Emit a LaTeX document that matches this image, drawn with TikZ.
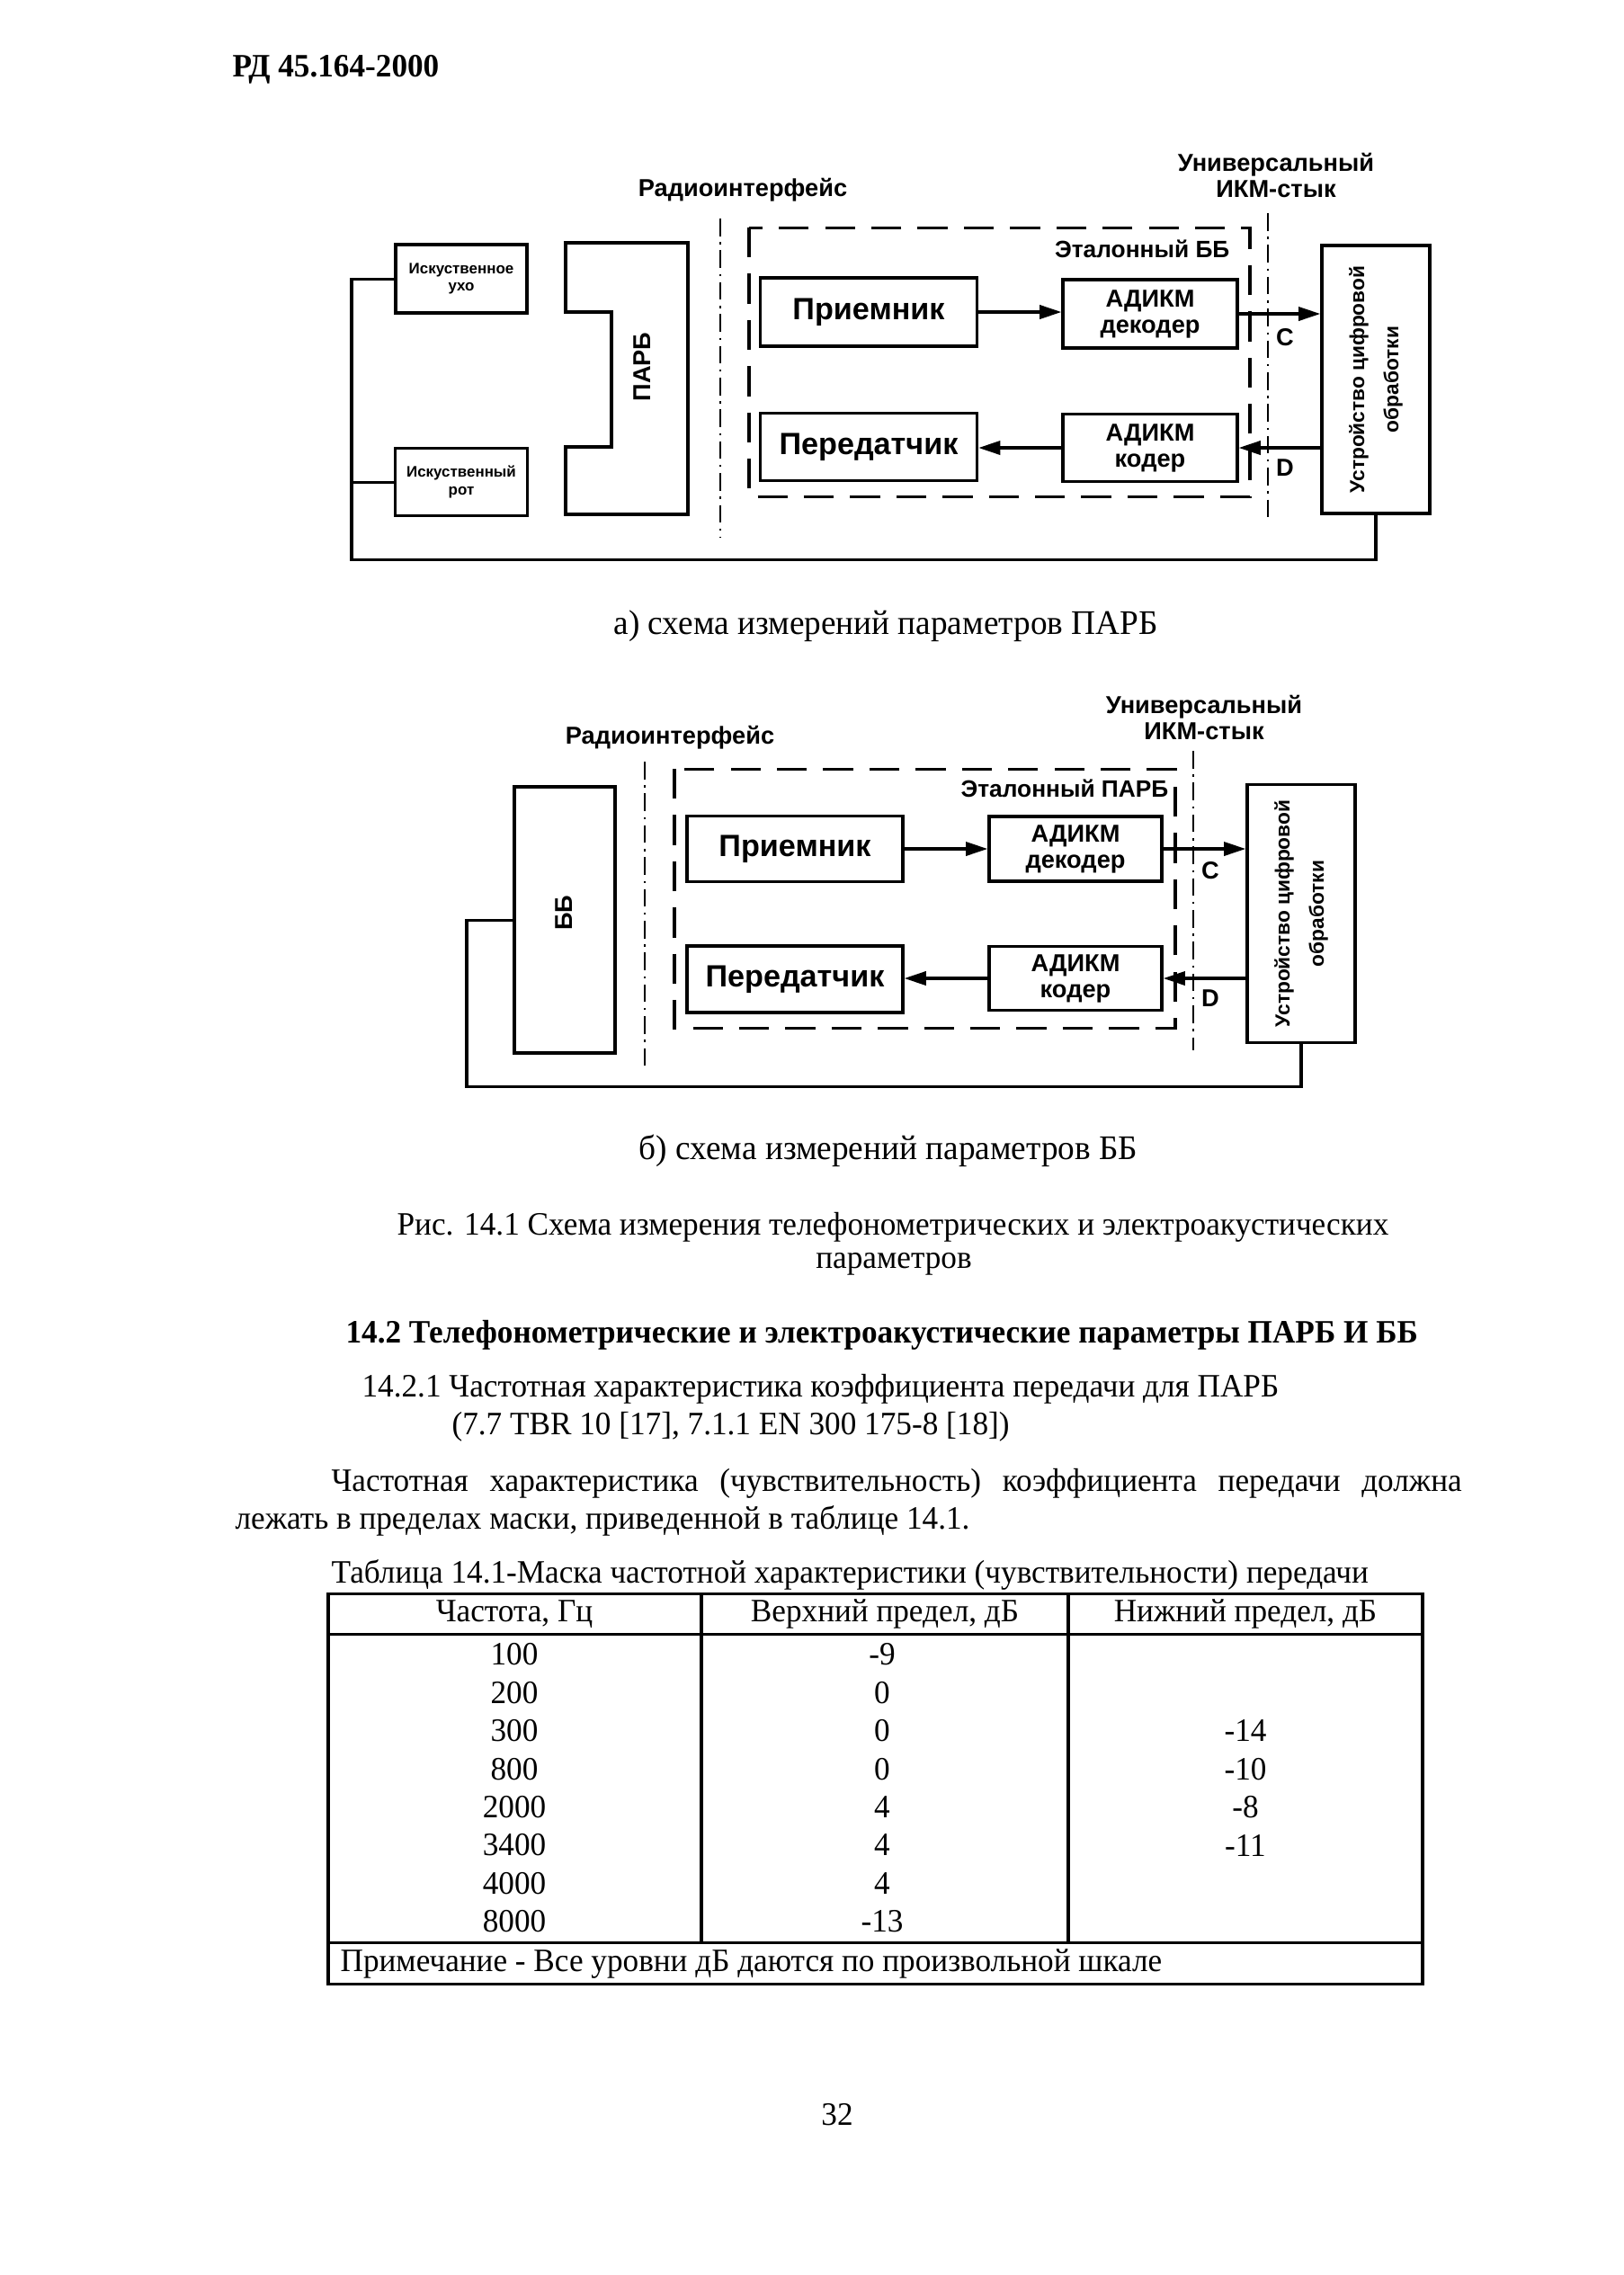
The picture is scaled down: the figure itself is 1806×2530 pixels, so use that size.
\documentclass[tikz,border=0pt]{standalone}
\usepackage{fontspec}
\setmainfont{Liberation Serif}[FakeStretch=0.97]
\setsansfont{Liberation Sans}
\usetikzlibrary{arrows.meta}

\tikzset{
  blk/.style={draw, line width=1.1pt, inner sep=0pt, align=center,
    font=\sffamily\bfseries\fontsize{11.3}{12}\selectfont},
  smallblk/.style={blk, font=\sffamily\bfseries\fontsize{9}{9.6}\selectfont},
  tinyblk/.style={blk, font=\sffamily\bfseries\fontsize{5.6}{6.4}\selectfont},
  lbl/.style={inner sep=0pt, align=center, font=\sffamily\bfseries\fontsize{9}{9.4}\selectfont},
  dashbox/.style={line width=1pt, dash pattern=on 11pt off 6pt},
  iface/.style={line width=0.7pt, dash pattern=on 6.5pt off 2.2pt on 0.8pt off 2.2pt},
  wire/.style={line width=1pt},
  sig/.style={line width=1.1pt, -{Triangle[length=8pt,width=5pt]}},
  txt/.style={inner sep=0pt, font=\fontsize{12}{13.6}\selectfont},
  captxt/.style={txt, font=\fontsize{12.7}{14}\selectfont},
  tbl/.style={line width=1pt},
}

\begin{document}
\begin{tikzpicture}[x=0.3306pt,y=-0.3306pt]
\useasboundingbox (0,0) rectangle (1806,2530);

% header
\node[txt, anchor=west, font=\bfseries\fontsize{12}{13.6}\selectfont] (head) at (258,77) {РД 45.164-2000};

% ---- scheme a
\node[lbl] (radioa) at (826,211) {Радиоинтерфейс};
\node[lbl] (pcma) at (1419,195) {Универсальный\\ИКМ-стык};
\draw[iface] (801,243) -- (801,597);
\draw[iface] (1410,237) -- (1410,580);
\draw[dashbox] (833,253) rectangle (1390,552);
\node[lbl, anchor=east, font=\sffamily\bfseries\fontsize{8.7}{9}\selectfont] (refa) at (1368,277) {Эталонный ББ};

\node[tinyblk, minimum width=48.3pt, minimum height=25.1pt] (ear) at (513,310) {Искуственное\\ухо};
\node[tinyblk, minimum width=48.6pt, minimum height=24.8pt] (mouth) at (513,536) {Искуственный\\рот};
\draw[line width=1.1pt] (629,270) -- (765,270) -- (765,572) -- (629,572) -- (629,497)
  -- (680,497) -- (680,347) -- (629,347) -- cycle;
\node[lbl, rotate=90] (parb) at (714,408) {ПАРБ};

\node[blk, minimum width=79.7pt, minimum height=25.1pt] (rxa) at (966,347) {Приемник};
\node[blk, minimum width=79.7pt, minimum height=24.8pt] (txa) at (966,497) {Передатчик};
\node[smallblk, minimum width=64.1pt, minimum height=25.1pt] (deca) at (1279,349) {АДИКМ\\декодер};
\node[smallblk, minimum width=64.1pt, minimum height=24.8pt] (coda) at (1279,498) {АДИКМ\\кодер};
\node[blk, minimum width=39.7pt, minimum height=98.5pt] (dspa) at (1530,422) {};
\node[lbl, rotate=90, font=\sffamily\bfseries\fontsize{7.5}{12.5}\selectfont] (dspta) at (dspa.center) {Устройство цифровой\\обработки};
\node[lbl] (ca) at (1429,375) {C};
\node[lbl] (da) at (1429,520) {D};

\draw[sig] (rxa.east) -- (rxa.east -| deca.west);
\draw[sig] (deca.east) -- (deca.east -| dspa.west);
\draw[sig] (dspa.west |- coda.east) -- (coda.east);
\draw[sig] (coda.west) -- (coda.west -| txa.east);

\coordinate (loopa) at (391,622);
\draw[wire] (ear.west) -| (loopa) -| (dspa.south);
\draw[wire] (mouth.west) -- (mouth.west -| loopa);

\node[captxt] (capa) at (985,696) {а) схема измерений параметров ПАРБ};

% ---- scheme b
\node[lbl] (radiob) at (745,820) {Радиоинтерфейс};
\node[lbl] (pcmb) at (1339,798) {Универсальный\\ИКМ-стык};
\draw[iface] (717,847) -- (717,1187);
\draw[iface] (1327,835) -- (1327,1168);
\draw[dashbox] (750,855) rectangle (1307,1143);
\node[lbl, anchor=east, font=\sffamily\bfseries\fontsize{8.7}{9}\selectfont] (refb) at (1300,877) {Эталонный ПАРБ};

\node[blk, minimum width=37pt, minimum height=97.9pt] (bb) at (628,1023) {};
\node[lbl, rotate=90] (bbt) at (627,1015) {ББ};

\node[blk, minimum width=79.3pt, minimum height=24.1pt] (rxb) at (884,944) {Приемник};
\node[blk, minimum width=79.3pt, minimum height=24.5pt] (txb) at (884,1089) {Передатчик};
\node[smallblk, minimum width=63.5pt, minimum height=23.8pt] (decb) at (1196,944) {АДИКМ\\декодер};
\node[smallblk, minimum width=63.5pt, minimum height=23.5pt] (codb) at (1196,1088) {АДИКМ\\кодер};
\node[blk, minimum width=39.7pt, minimum height=94.9pt] (dspb) at (1447,1016) {};
\node[lbl, rotate=90, font=\sffamily\bfseries\fontsize{7.5}{12.5}\selectfont] (dsptb) at (dspb.center) {Устройство цифровой\\обработки};
\node[lbl] (cb) at (1346,968) {C};
\node[lbl] (db) at (1346,1110) {D};

\draw[sig] (rxb.east) -- (rxb.east -| decb.west);
\draw[sig] (decb.east) -- (decb.east -| dspb.west);
\draw[sig] (dspb.west |- codb.east) -- (codb.east);
\draw[sig] (codb.west) -- (codb.west -| txb.east);

\coordinate (loopb) at (519,1208);
\draw[wire] (bb.west) -| (loopb) -| (dspb.south);

\node[captxt] (capb) at (988,1280) {б) схема измерений параметров ББ};

% ---- caption and text
\node[txt] (fig1) at (993,1365) {Рис. 14.1 Схема измерения телефонометрических и электроакустических};
\node[txt] (fig2) at (994,1406) {параметров};
\node[txt, anchor=west, font=\bfseries\fontsize{12}{13.6}\selectfont] (sec) at (384,1485) {14.2 Телефонометрические и электроакустические параметры ПАРБ И ББ};
\node[txt, anchor=west] (sub1) at (402,1545) {14.2.1 Частотная характеристика коэффициента передачи для ПАРБ};
\node[txt, anchor=west] (sub2) at (502,1587) {(7.7 TBR 10 [17], 7.1.1 EN 300 175-8 [18])};
\node[txt, anchor=west] (par1) at (368,1650) {\makebox[415.6pt][s]{Частотная характеристика (чувствительность) коэффициента передачи должна}};
\node[txt, anchor=west] (par2) at (261,1691) {лежать в пределах маски, приведенной в таблице 14.1.};
\node[txt, anchor=west] (ttl) at (368,1751) {Таблица 14.1-Маска частотной характеристики (чувствительности) передачи};

% ---- table
\draw[tbl] (365,1772) rectangle (1582,2206);
\draw[tbl] (365,1817) -- (1582,1817);
\draw[tbl] (365,2160) -- (1582,2160);
\draw[tbl] (780,1772) -- (780,2160);
\draw[tbl] (1188,1772) -- (1188,2160);
\node[txt] (th1) at (572,1795) {Частота, Гц};
\node[txt] (th2) at (984,1795) {Верхний предел, дБ};
\node[txt] (th3) at (1385,1795) {Нижний предел, дБ};
\foreach \f/\u/\l [count=\i] in {100/-9/{},200/0/{},300/0/-14,800/0/-10,2000/4/-8,3400/4/-11,4000/4/{},8000/-13/{}}{
  \node[txt] (f\i) at (572,1840+42.4*\i-42.4) {\f};
  \node[txt] (u\i) at (981,1840+42.4*\i-42.4) {\u};
  \node[txt] (l\i) at (1385,1840+42.4*\i-42.4) {\l};
}
\node[txt, anchor=west] (note) at (378,2184) {Примечание - Все уровни дБ даются по произвольной шкале};

\node[txt] (pg) at (931,2352) {32};
\end{tikzpicture}
\end{document}
